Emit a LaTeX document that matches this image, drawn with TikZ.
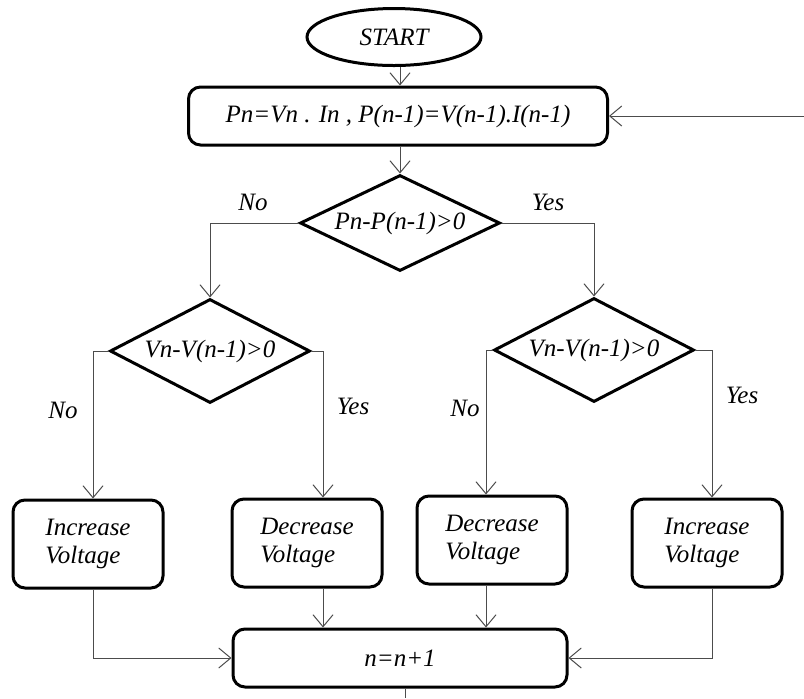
\documentclass[tikz,border=0pt]{standalone}
\usepackage{fontspec}
\setmainfont{Liberation Serif}
\usetikzlibrary{shapes.geometric,arrows.meta}

\begin{document}
\begin{tikzpicture}[x=0.5pt, y=-0.5pt,
    every node/.style={font=\fontsize{12.5}{14}\selectfont\itshape},
    % action boxes
    box/.style={draw, line width=1.5pt, rounded corners=6pt, align=left,
      minimum width=75pt, minimum height=44pt, inner sep=0pt},
    % long process boxes
    wide/.style={draw, line width=1.5pt, rounded corners=6pt,
      minimum height=29pt, inner sep=0pt},
    % decisions
    test/.style={draw, diamond, aspect=2, line width=1.5pt, inner sep=0pt,
      minimum width=100pt, minimum height=52pt},
    flow/.style={draw=black!70, line width=0.5pt,
      -{Straight Barb[length=6pt, width=10pt]}},
    link/.style={draw=black!70, line width=0.5pt}]

  \useasboundingbox (0,0) rectangle (804,698);

  % Main column
  \node[ellipse, draw, line width=1.5pt, minimum width=87pt, minimum height=28.5pt,
    inner sep=0pt] (start) at (394,37) {START};
  \node[wide, minimum width=209.5pt] (calc) at (398,116)
    {Pn=Vn . In , P(n-1)=V(n-1).I(n-1)};
  \node[test, minimum height=48pt] (dpow) at (400,223) {Pn-P(n-1)>0};

  % Second level decisions
  \node[test] (dvl) at (210,351) {Vn-V(n-1)>0};
  \node[test] (dvr) at (594,350) {Vn-V(n-1)>0};

  % Actions
  \node[box] (incl) at (88,544) {Increase\\Voltage};
  \node[box] (decl) at (307,543) {Decrease\\Voltage};
  \node[box] (decr) at (492,540) {Decrease\\Voltage};
  \node[box] (incr) at (707,543) {Increase\\Voltage};

  \node[wide, minimum width=167pt] (incn) at (400,658) {n=n+1};

  % Branch labels
  \node (nopow)  at (253,202) {No};
  \node (yespow) at (548,202) {Yes};
  \node (nol)    at (63,410)  {No};
  \node (yesl)   at (353,406) {Yes};
  \node (nor)    at (465,408) {No};
  \node (yesr)   at (742,395) {Yes};

  % Free ends
  \coordinate (back) at (804,116);
  \coordinate (exit) at (405,698);

  % Connectors
  \draw[flow] ([xshift=3pt]start.south) -- ([xshift=3pt]start.south |- calc.north);
  \draw[flow] (calc.south -| dpow.north) -- (dpow.north);
  \draw[flow] (back) -- (calc.east);

  \draw[flow] (dpow.west) -| (dvl.north);
  \draw[flow] (dpow.east) -| (dvr.north);

  \draw[flow] (dvl.west) -| ([xshift=2.5pt]incl.north);
  \draw[flow] (dvl.east) -| ([xshift=8pt]decl.north);
  \draw[flow] (dvr.west) -| ([xshift=-3pt]decr.north);
  \draw[flow] (dvr.east) -| ([xshift=2.5pt]incr.north);

  \draw[flow] ([xshift=2.5pt]incl.south) |- (incn.west);
  \draw[flow] ([xshift=8pt]decl.south) -- ([xshift=8pt]decl.south |- incn.north);
  \draw[flow] ([xshift=-3pt]decr.south) -- ([xshift=-3pt]decr.south |- incn.north);
  \draw[flow] ([xshift=2.5pt]incr.south) |- (incn.east);

  \draw[link] (exit |- incn.south) -- (exit);

\end{tikzpicture}
\end{document}
